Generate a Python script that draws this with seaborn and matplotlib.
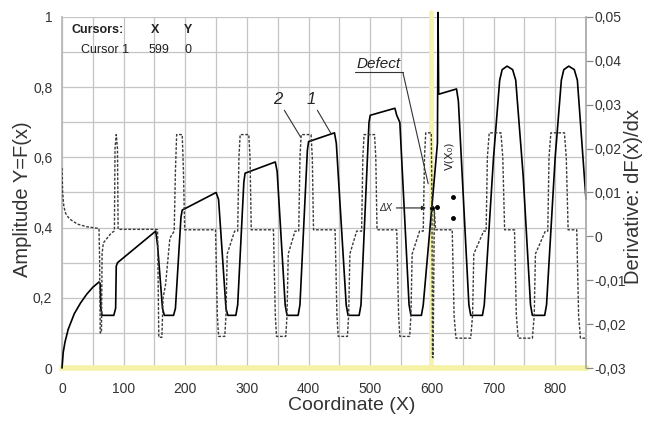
import numpy as np
import pandas as pd
import matplotlib
matplotlib.use("Agg")
import matplotlib.pyplot as plt
from matplotlib.ticker import FuncFormatter
import seaborn as sns

# curve 1: amplitude F(x)
coord_f = [0, 2, 5, 10, 20, 30, 40, 50, 60, 62, 63, 65, 84, 87, 88, 90,
           152, 155, 163, 166, 181, 184, 193, 195, 250,
           254, 266, 269, 282, 285, 295, 297, 346,
           349, 362, 365, 383, 386, 398, 400, 442,
           445, 461, 464, 482, 485, 498, 500, 540,
           543, 548, 563, 566, 583, 586, 602, 609, 610, 611, 640,
           643, 660, 663, 682, 685, 700, 710, 714, 722, 731, 736, 748, 760,
           763, 783, 786, 800, 810, 814, 822, 831, 836, 850]
amp_f = [0, 0.045, 0.075, 0.11, 0.155, 0.185, 0.21, 0.23, 0.245, 0.24, 0.17, 0.15, 0.15, 0.17, 0.29, 0.30,
         0.39, 0.35, 0.17, 0.15, 0.15, 0.17, 0.43, 0.45, 0.50,
         0.48, 0.17, 0.15, 0.15, 0.18, 0.53, 0.555, 0.587,
         0.56, 0.18, 0.15, 0.15, 0.18, 0.62, 0.645, 0.67,
         0.64, 0.18, 0.15, 0.15, 0.18, 0.70, 0.72, 0.74,
         0.72, 0.70, 0.18, 0.15, 0.15, 0.18, 0.50, 0.64, 1.013, 0.78, 0.795,
         0.76, 0.18, 0.15, 0.15, 0.18, 0.60, 0.82, 0.85, 0.86, 0.85, 0.82, 0.55, 0.18,
         0.15, 0.15, 0.18, 0.60, 0.82, 0.85, 0.86, 0.85, 0.82, 0.48]

# curve 2: derivative dF(x)/dx (right axis)
coord_d = [0, 1, 3, 6, 12, 25, 40, 60, 61, 62, 64, 65, 67, 80, 85, 86, 88, 90, 91,
           152, 155, 157, 162, 164, 168, 175, 182, 184, 186, 195, 197, 199,
           249, 252, 254, 264, 266, 268, 280, 285, 287, 289, 303, 305, 307,
           343, 346, 348, 363, 365, 367, 378, 384, 386, 388, 404, 406, 408,
           443, 446, 448, 463, 465, 467, 478, 486, 488, 490, 507, 509, 511,
           543, 546, 548, 564, 566, 568, 580, 586, 588, 590, 599, 600, 601, 602, 604, 606,
           633, 636, 639, 663, 666, 668, 684, 688, 690, 693, 712, 715, 718,
           734, 737, 740, 763, 766, 768, 784, 788, 790, 793, 815, 818, 821,
           835, 838, 841, 850]
deriv_d = [0.0156, 0.010, 0.0068, 0.0052, 0.0040, 0.0028, 0.0022, 0.0018, -0.005, -0.022, -0.022, -0.004, -0.0015, 0.0008, 0.0012, 0.020, 0.0232, 0.020, 0.0016,
           0.0016, 0.0015, -0.023, -0.023, -0.014, -0.011, -0.0004, 0.0012, 0.015, 0.0232, 0.0232, 0.015, 0.0015,
           0.0015, -0.018, -0.0228, -0.0228, -0.018, -0.004, 0.0012, 0.0012, 0.018, 0.0232, 0.0232, 0.018, 0.0015,
           0.0015, -0.018, -0.0228, -0.0228, -0.018, -0.004, 0.0012, 0.0012, 0.018, 0.0232, 0.0232, 0.018, 0.0015,
           0.0015, -0.018, -0.0228, -0.0228, -0.018, -0.004, 0.0012, 0.0012, 0.018, 0.0232, 0.0232, 0.018, 0.0015,
           0.0015, -0.018, -0.0228, -0.0228, -0.018, -0.004, 0.0012, 0.0012, 0.018, 0.0236, 0.0236, 0.010, -0.0276, -0.0276, 0.006, 0.0015,
           0.0015, -0.018, -0.0232, -0.0232, -0.018, -0.004, 0.0012, 0.0012, 0.018, 0.0236, 0.0236, 0.018, 0.0015,
           0.0015, -0.018, -0.0232, -0.0232, -0.018, -0.004, 0.0012, 0.0012, 0.018, 0.0236, 0.0236, 0.018, 0.0015,
           0.0015, -0.018, -0.0232, -0.0232]

cursor_x = 599
x_ticks = [0, 100, 200, 300, 400, 500, 600, 700, 800]
amp_ticks = [0, 0.2, 0.4, 0.6, 0.8, 1]
deriv_ticks = [-0.03, -0.02, -0.01, 0, 0.01, 0.02, 0.03, 0.04, 0.05]

df_f = pd.DataFrame({"x": coord_f, "y": amp_f})
df_d = pd.DataFrame({"x": coord_d, "y": deriv_d})

sns.set_theme(style="white")
plt.rcParams["font.family"] = ["Liberation Sans", "DejaVu Sans"]

comma = FuncFormatter(lambda v, p: f"{v:g}".replace(".", ","))

fig, ax = plt.subplots(figsize=(6.49, 4.23), dpi=100)
fig.subplots_adjust(left=62/649, right=586/649, bottom=1-368/423, top=1-17/423)

ax.set_xlim(0, 850)
ax.set_ylim(0, 1)
ax.set_xticks(x_ticks)
ax.set_xticks(np.arange(0, 851, 50), minor=True)
ax.set_yticks(amp_ticks)
ax.set_yticks(np.arange(0, 1.01, 0.1), minor=True)
ax.grid(which="both", color="#c4c4c4", lw=0.9)
ax.tick_params(which="both", length=0, labelsize=10, colors="#333333")
ax.tick_params(axis="x", pad=10)
ax.tick_params(axis="y", pad=7)
ax.xaxis.set_major_formatter(comma)
ax.yaxis.set_major_formatter(comma)
for s in ["top", "right"]:
    ax.spines[s].set_visible(False)
ax.spines["left"].set_color("#b8b8b8")
ax.spines["bottom"].set_color("#f5f2a6")
ax.spines["bottom"].set_linewidth(4)

# cursor line
ax.axvline(cursor_x, ymax=1.015, color="#f6f3ae", lw=3.5, zorder=1, clip_on=False)

sns.lineplot(data=df_f, x="x", y="y", ax=ax, color="black", lw=1.2,
             estimator=None, sort=False, clip_on=False, zorder=3)

ax2 = ax.twinx()
ax2.set_ylim(-0.03, 0.05)
ax2.set_yticks(deriv_ticks)
ax2.yaxis.set_major_formatter(comma)
ax2.tick_params(axis="y", direction="out", length=5, width=0.9, color="#888888",
                pad=1, labelsize=10, labelcolor="#333333")
for s in ["top", "left", "bottom"]:
    ax2.spines[s].set_visible(False)
ax2.spines["right"].set_color("#a8a8a8")
sns.lineplot(data=df_d, x="x", y="y", ax=ax2, color="#3a3a3a", lw=1.0,
             estimator=None, sort=False, zorder=2)
ax2.lines[-1].set_dashes([2, 1.2])
ax2.set_xlim(0, 850)

ax.set_xlabel("Coordinate (X)", fontsize=14, color="#333333")
ax.xaxis.set_label_coords(0.553, -0.082)
ax.set_ylabel("Amplitude Y=F(x)", fontsize=14.5, color="#333333")
ax.yaxis.set_label_coords(-0.058, 0.48)
ax2.set_ylabel("Derivative: dF(x)/dx", fontsize=14.5, color="#333333")
ax2.yaxis.set_label_coords(1.072, 0.49)

# cursor readout
tk = dict(transform=ax.transAxes, fontsize=9, color="#222222", va="center")
ax.text(0.019, 0.963, "Cursors:", fontweight="bold", ha="left", **tk)
ax.text(0.177, 0.963, "X", fontweight="bold", ha="center", **tk)
ax.text(0.24, 0.963, "Y", fontweight="bold", ha="center", **tk)
ax.text(0.128, 0.906, "Cursor 1", ha="right", **tk)
ax.text(0.185, 0.906, "599", ha="center", **tk)
ax.text(0.24, 0.906, "0", ha="center", **tk)

# annotations
ann = dict(arrowstyle="-", color="#333333", lw=0.8, shrinkA=0, shrinkB=0)
ax.annotate("2", xy=(387, 0.658), xytext=(350, 0.765), fontsize=12, style="italic",
            ha="center", va="center", arrowprops=ann)
ax.annotate("1", xy=(436, 0.669), xytext=(404, 0.765), fontsize=12, style="italic",
            ha="center", va="center", arrowprops=ann)
ax.text(514, 0.845, "Defect", fontsize=11, style="italic", ha="center", va="bottom",
        color="#222222")
ax.plot([476, 553], [0.842, 0.842], color="#333333", lw=0.8)
ax.plot([553, 594], [0.842, 0.525], color="#333333", lw=0.8)
ax.annotate("", xy=(595, 0.456), xytext=(538, 0.456),
            arrowprops=dict(arrowstyle="-|>", color="#222222", lw=0.8, mutation_scale=6))
ax.text(536, 0.456, "ΔX", fontsize=7, style="italic", ha="right", va="center")
ax.plot([600, 609, 634, 634], [0.455, 0.46, 0.487, 0.427], "o", color="black",
        ms=2.5, zorder=4)
ax.text(628, 0.605, "V(X₀)", fontsize=8, rotation=90, ha="center", va="center",
        family=["DejaVu Sans"])

fig.savefig("out.png", dpi=100)
